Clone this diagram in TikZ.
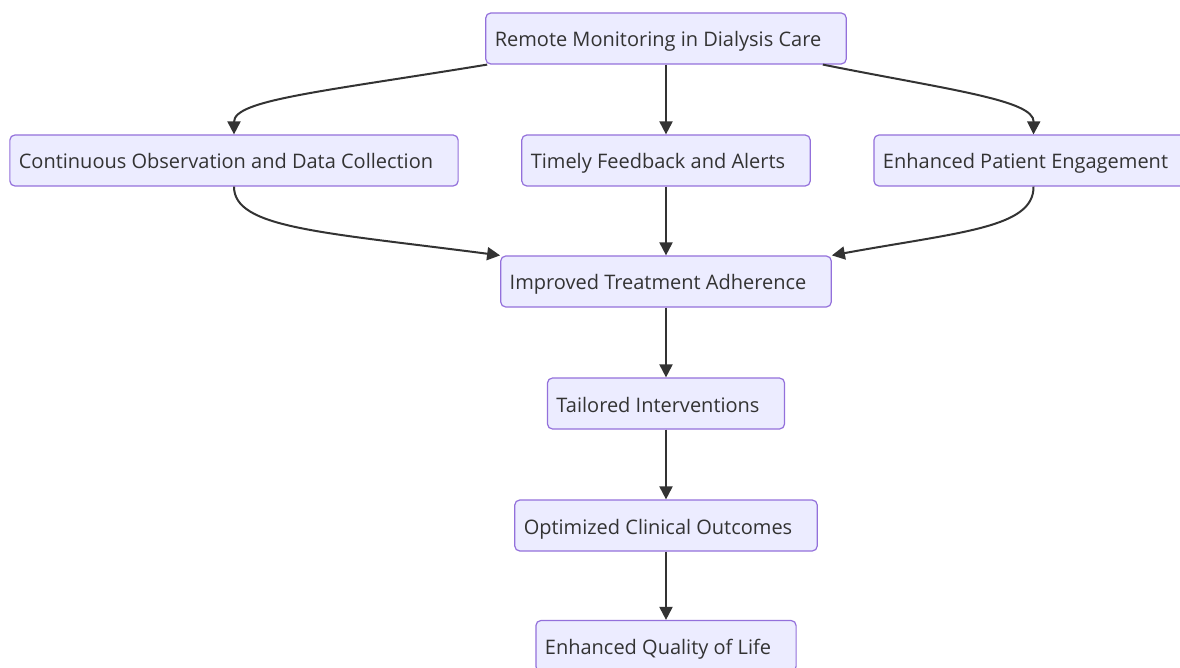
\documentclass[tikz,border=0pt]{standalone}
\usepackage{fontspec}
\setmainfont{Open Sans}
\usetikzlibrary{arrows.meta,positioning}

\definecolor{boxfill}{HTML}{ECECFF}
\definecolor{boxline}{HTML}{9370DB}
\definecolor{ink}{HTML}{333333}

\begin{document}
\begin{tikzpicture}[x=1pt, y=-1pt,
  box/.style={draw=boxline, fill=boxfill, line width=1.2pt, rounded corners=5pt,
    minimum height=51pt, inner xsep=9pt, text height=19pt, text depth=2pt,
    text=ink, font=\fontsize{20}{24}\selectfont,
    execute at end node={\hspace{16pt}}},
  flow/.style={draw=ink, line width=2pt, -{Triangle[length=13pt,width=13pt]}}]
\useasboundingbox (0,0) rectangle (1180,668);
\node[box] (rm) at (666,38.5) {Remote Monitoring in Dialysis Care};
\node[box] (cont) at (234,160.5) {Continuous Observation and Data Collection};
\node[box] (fb) at (666,160.5) {Timely Feedback and Alerts};
\node[box] (eng) at (1033.5,160.5) {Enhanced Patient Engagement};
\node[box] (adh) at (666,281.5) {Improved Treatment Adherence};
\node[box] (tail) at (666,403.5) {Tailored Interventions};
\node[box] (outc) at (666,525.5) {Optimized Clinical Outcomes};
\node[box] (qol) at (666,646) {Enhanced Quality of Life};
% fan out
\draw[flow] ([xshift=2pt]rm.south west) .. controls (320,92) and (234,100) .. (cont.north);
\draw[flow] (rm.south) -- (fb.north);
\draw[flow] ([xshift=-24pt]rm.south east) .. controls (950,90) and (1034,100) .. (eng.north);
% fan in
\draw[flow] (cont.south) .. controls (234,228) and (320,232) .. (adh.north west);
\draw[flow] (fb.south) -- (adh.north);
\draw[flow] (eng.south) .. controls (1034,228) and (960,232) .. (adh.north east);
% chain
\draw[flow] (adh) -- (tail);
\draw[flow] (tail) -- (outc);
\draw[flow] (outc) -- (qol);
\end{tikzpicture}
\end{document}
